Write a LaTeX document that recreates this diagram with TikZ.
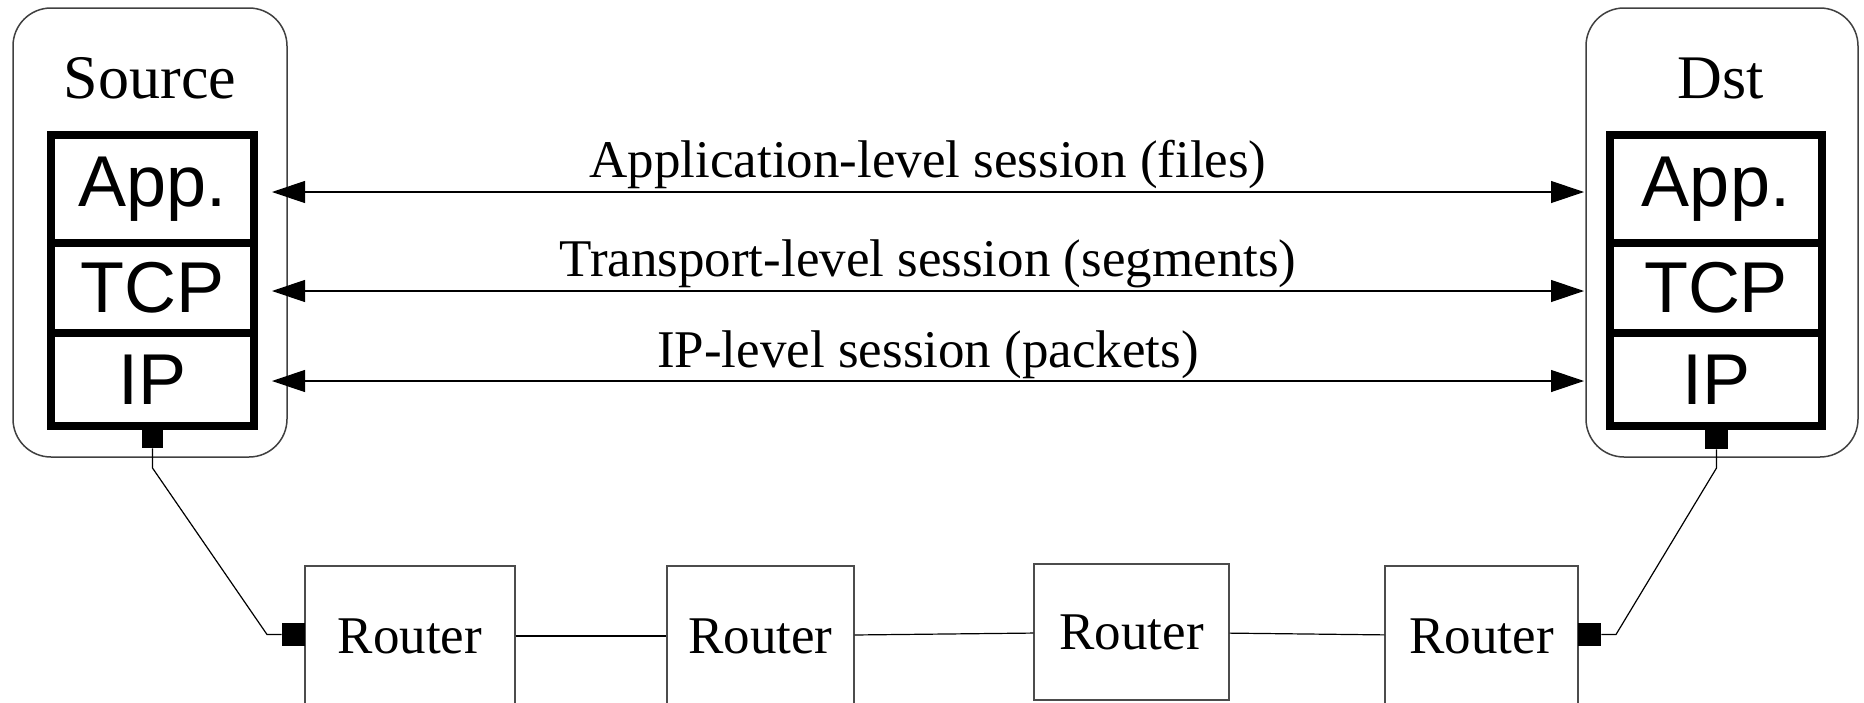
\documentclass[tikz,border=0pt]{standalone}
\usepackage{fontspec}
\setmainfont{Liberation Serif}
\newfontfamily\helv{Liberation Sans}
\usetikzlibrary{arrows.meta}
\begin{document}
\begin{tikzpicture}[x=0.5pt,y=-0.5pt,
  host/.style={draw=black!75, line width=0.75pt, rounded corners=19pt, inner sep=0pt},
  layer/.style={draw, line width=4pt, inner sep=0pt, font=\helv\fontsize{36}{40}\selectfont},
  port/.style={fill=black, inner sep=0pt},
  router/.style={draw=black!70, line width=0.6pt, minimum height=70pt, inner sep=0pt, font=\fontsize{26.5}{30}\selectfont},
  link/.style={line width=0.6pt},
  session/.style={line width=0.6pt, {Triangle[length=16.5pt,width=11pt]}-{Triangle[length=16.5pt,width=11pt]}},
  lbl/.style={font=\fontsize{26.5}{30}\selectfont, anchor=base, inner sep=0pt},
  hostlbl/.style={font=\fontsize{31}{36}\selectfont, anchor=base, inner sep=0pt}]
\useasboundingbox (0,0) rectangle (1864,702);

% hosts
\node[host, minimum width=137pt, minimum height=224.5pt] (src) at (150,232.5) {};
\node[host, minimum width=136pt, minimum height=224.5pt] (dst) at (1722,232.5) {};
\node[hostlbl] (srclbl) at (150,98) {Source};
\node[hostlbl] (dstlbl) at (1721,98) {Dst};

% protocol stacks
\node[layer, minimum width=101.5pt, minimum height=54pt]   (sapp) at (152.5,189) {App.};
\node[layer, minimum width=101.5pt, minimum height=45pt]   (stcp) at (152.5,288) {TCP};
\node[layer, minimum width=101.5pt, minimum height=46.5pt] (sip)  at (152.5,379.5) {IP};
\node[layer, minimum width=106pt, minimum height=54pt]   (dapp) at (1716,189) {App.};
\node[layer, minimum width=106pt, minimum height=45pt]   (dtcp) at (1716,288) {TCP};
\node[layer, minimum width=106pt, minimum height=46.5pt] (dip)  at (1716,379.5) {IP};

% ports
\node[port, minimum width=10.5pt, minimum height=10pt] (sport) at (152.5,438) {};
\node[port, minimum width=11.5pt, minimum height=10.5pt] (dport) at (1716.5,438.5) {};

% routers
\node[router, minimum width=105pt] (r1) at (410,636) {Router};
\node[router, minimum width=93.5pt] (r2) at (760.5,636) {Router};
\node[router, minimum width=97.5pt, minimum height=68pt] (r3) at (1131.5,632) {Router};
\node[router, minimum width=96.5pt] (r4) at (1481.5,636) {Router};
\node[port, minimum width=11.5pt, minimum height=11.5pt] (r1port) at (293.5,634.5) {};
\node[port, minimum width=11.5pt, minimum height=11.5pt] (r4port) at (1589.5,634.5) {};

% sessions
\coordinate (appL) at (272,192);  \coordinate (appR) at (1584,192);
\coordinate (tcpL) at (272,291);  \coordinate (tcpR) at (1584,291);
\coordinate (ipL)  at (272,381);  \coordinate (ipR)  at (1584,381);
\draw[session] (appL) -- (appR);
\draw[session] (tcpL) -- (tcpR);
\draw[session] (ipL) -- (ipR);
\node[lbl] (l1) at (928,177) {Application-level session (files)};
\node[lbl] (l2) at (928,276) {Transport-level session (segments)};
\node[lbl] (l3) at (928,367) {IP-level session (packets)};

% links
\coordinate (sb1) at (152.5,468);
\coordinate (sb2) at (267,634.5);
\coordinate (db1) at (1716.5,468);
\coordinate (db2) at (1616,634.5);
\draw[link] (sport.south) -- (sb1) -- (sb2) -- (r1port.west);
\draw[link] (dport.south) -- (db1) -- (db2) -- (r4port.east);
\draw[link] (r1) -- (r2);
\draw[link] (r2) -- (r3);
\draw[link] (r3) -- (r4);
\end{tikzpicture}
\end{document}
